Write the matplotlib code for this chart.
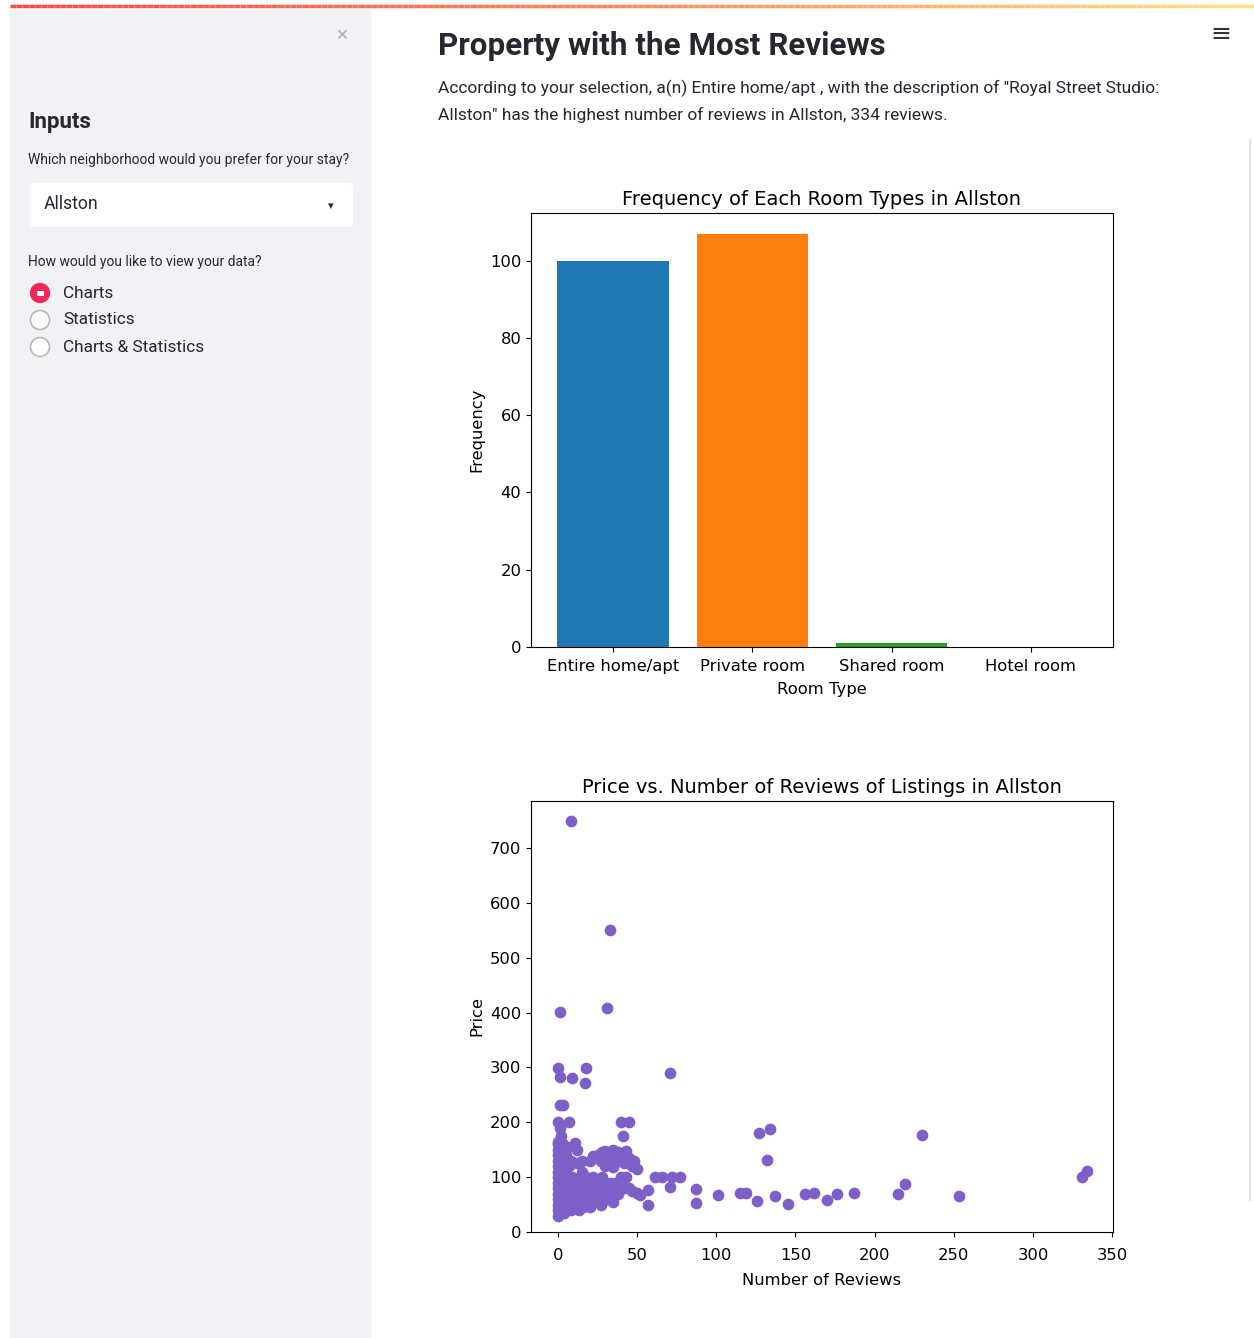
import matplotlib.pyplot as plt
from matplotlib.patches import Rectangle, FancyBboxPatch, Circle
from matplotlib.collections import LineCollection
import numpy as np

# data
room_types = ['Entire home/apt', 'Private room', 'Shared room', 'Hotel room']
room_counts = [100, 107, 1, 0]
bar_colors = ['#1f77b4', '#ff7f0e', '#2ca02c', '#d62728']

reviews = [8, 33, 31, 1, 71, 0, 1, 9, 18, 17, 1, 3, 0, 1, 7, 11, 40, 45, 41,
           127, 134, 132, 230, 331, 334, 253, 215, 219, 187, 176, 170, 156, 162,
           145, 137, 126, 115, 119, 101, 87, 87, 77, 72, 66, 61, 57, 52, 57, 71,
           25, 28, 30, 32, 35, 38, 40, 43, 45, 48, 27, 33, 38, 42, 47, 50, 20, 22,
           15, 12, 30, 35, 18, 28, 40, 43, 33, 42, 45, 47, 50,
           0, 0, 0, 0, 0, 0, 0, 0, 0, 0, 0, 0, 0, 0, 0,
           1, 1, 1, 1, 1, 1, 1, 1, 1, 2, 2, 2, 2, 2, 2, 3, 3, 3, 3, 3,
           4, 4, 4, 4, 4, 5, 5, 5, 5, 5, 6, 6, 6, 6, 7, 7, 7, 7, 8, 8, 8,
           9, 9, 9, 10, 10, 10, 11, 11, 12, 12, 13, 13, 14, 15, 15, 16, 16,
           17, 18, 19, 20, 20, 21, 22, 23, 24, 25, 26, 27, 28, 30, 31, 33, 35,
           36, 38, 12, 8, 5, 3, 2, 6]
prices = [749, 550, 408, 401, 290, 299, 283, 281, 299, 272, 231, 231, 200, 190, 200, 162, 200, 200, 175,
          180, 188, 131, 177, 100, 111, 66, 69, 87, 71, 69, 58, 69, 71,
          51, 66, 57, 71, 71, 67, 78, 52, 100, 100, 100, 100, 77, 67, 49, 82,
          140, 145, 148, 140, 150, 145, 140, 148, 135, 130, 130, 130, 130, 125, 120, 115, 130, 138,
          130, 125, 120, 118, 100, 100, 100, 100, 89, 80, 80, 75, 72,
          30, 40, 50, 60, 70, 80, 90, 100, 110, 120, 130, 140, 150, 160, 165,
          35, 45, 55, 65, 75, 85, 95, 105, 115, 40, 60, 80, 100, 120, 140, 50, 70, 90, 110, 130,
          35, 55, 75, 95, 115, 45, 65, 85, 105, 125, 40, 60, 80, 100, 50, 70, 90, 120, 40, 65, 85,
          55, 75, 100, 45, 70, 90, 60, 80, 50, 95, 70, 40, 85, 60, 110, 45, 75,
          90, 55, 70, 85, 45, 65, 100, 55, 80, 70, 90, 50, 65, 80, 60, 75, 55,
          90, 70, 150, 130, 140, 160, 175, 155]

neighborhood = 'Allston'
view_options = ['Charts', 'Statistics', 'Charts & Statistics']

fig = plt.figure(figsize=(12.54, 13.38), dpi=100)
W, H = 1254, 1338

def fx(px):
    return px / W

def fy(py):
    return 1 - py / H

ui = fig.add_axes([0, 0, 1, 1])
ui.set_xlim(0, W)
ui.set_ylim(H, 0)
ui.axis('off')

# sidebar
ui.add_patch(Rectangle((10, 10), 360, H - 10, color='#f0f2f6', zorder=0))
# top gradient line
grad = np.linspace(0, 1, 200)
xs = np.linspace(10, W, 201)
segs = [[(xs[i], 6), (xs[i + 1], 6)] for i in range(200)]
cmap = plt.matplotlib.colors.LinearSegmentedColormap.from_list('g', ['#ff4b4b', '#ff8a5a', '#ffe08a'])
ui.add_collection(LineCollection(segs, colors=cmap(grad), linewidths=2.5))
ui.plot([1250, 1250], [140, 1200], color='#e6e6e6', lw=1.5)

sans = ['Roboto', 'DejaVu Sans']
ui.text(342, 36, '×', fontsize=15, color='#b0b0b0', ha='center', va='center', family=sans)
ui.text(1221, 34, '≡', fontsize=18, color='#333333', ha='center', va='center', family=['DejaVu Sans'])
ui.text(28, 122, 'Inputs', fontsize=16, fontweight='bold', color='#262730', va='center', family=sans)
ui.text(28, 160, 'Which neighborhood would you prefer for your stay?', fontsize=10,
        color='#262730', va='center', family=sans)
ui.add_patch(FancyBboxPatch((30, 183), 323, 44, boxstyle='round,pad=0,rounding_size=4',
                            fc='white', ec='none'))
ui.text(44, 204, neighborhood, fontsize=12.7, color='#262730', va='center', family=sans)
ui.text(331, 206, '▾', fontsize=8, color='#262730', ha='center', va='center', family=['DejaVu Sans'])
ui.text(28, 262, 'How would you like to view your data?', fontsize=10,
        color='#262730', va='center', family=sans)
for i, opt in enumerate(view_options):
    cy = 293 + 27 * i
    if i == 0:
        ui.add_patch(Circle((40, cy), 9.5, fc='#f0295d', ec='#f0295d'))
        ui.add_patch(Rectangle((36.5, cy - 2.5), 7, 5, fc='white', ec='none'))
    else:
        ui.add_patch(Circle((40, cy), 9.5, fc='white', ec='#b8b8b8', lw=1.2))
    ui.text(63, cy, opt, fontsize=12.4, color='#262730', va='center', family=sans)

ui.text(438, 46, 'Property with the Most Reviews', fontsize=22.6, fontweight='bold',
        color='#262730', va='center', family=sans)
ui.text(438, 88, 'According to your selection, a(n) Entire home/apt , with the description of "Royal Street Studio:',
        fontsize=12.5, color='#262730', va='center', family=sans)
ui.text(438, 115, 'Allston" has the highest number of reviews in Allston, 334 reviews.',
        fontsize=12.5, color='#262730', va='center', family=sans)

# bar chart
ax1 = fig.add_axes([fx(531), fy(647), fx(1113) - fx(531), fy(213) - fy(647)])
ax1.bar(room_types, room_counts, color=bar_colors)
ax1.set_title('Frequency of Each Room Types in Allston', fontsize=14)
ax1.set_xlabel('Room Type', fontsize=11.8, labelpad=6)
ax1.set_ylabel('Frequency', fontsize=11.8)
ax1.tick_params(labelsize=11.8)
ax1.tick_params(axis='x', pad=5)

# scatter
ax2 = fig.add_axes([fx(531), fy(1232), fx(1113) - fx(531), fy(801) - fy(1232)])
ax2.scatter(reviews, prices, color='#7e5fc7', s=55)
ax2.set_xlim(-17, 350.5)
ax2.set_ylim(0, 786)
ax2.set_xticks(range(0, 351, 50))
ax2.set_yticks(range(0, 701, 100))
ax2.set_title('Price vs. Number of Reviews of Listings in Allston', fontsize=14)
ax2.set_xlabel('Number of Reviews', fontsize=11.8, labelpad=7)
ax2.set_ylabel('Price', fontsize=11.8)
ax2.tick_params(labelsize=11.8)
ax2.tick_params(axis='x', pad=8)

fig.savefig('out.png', dpi=100)
